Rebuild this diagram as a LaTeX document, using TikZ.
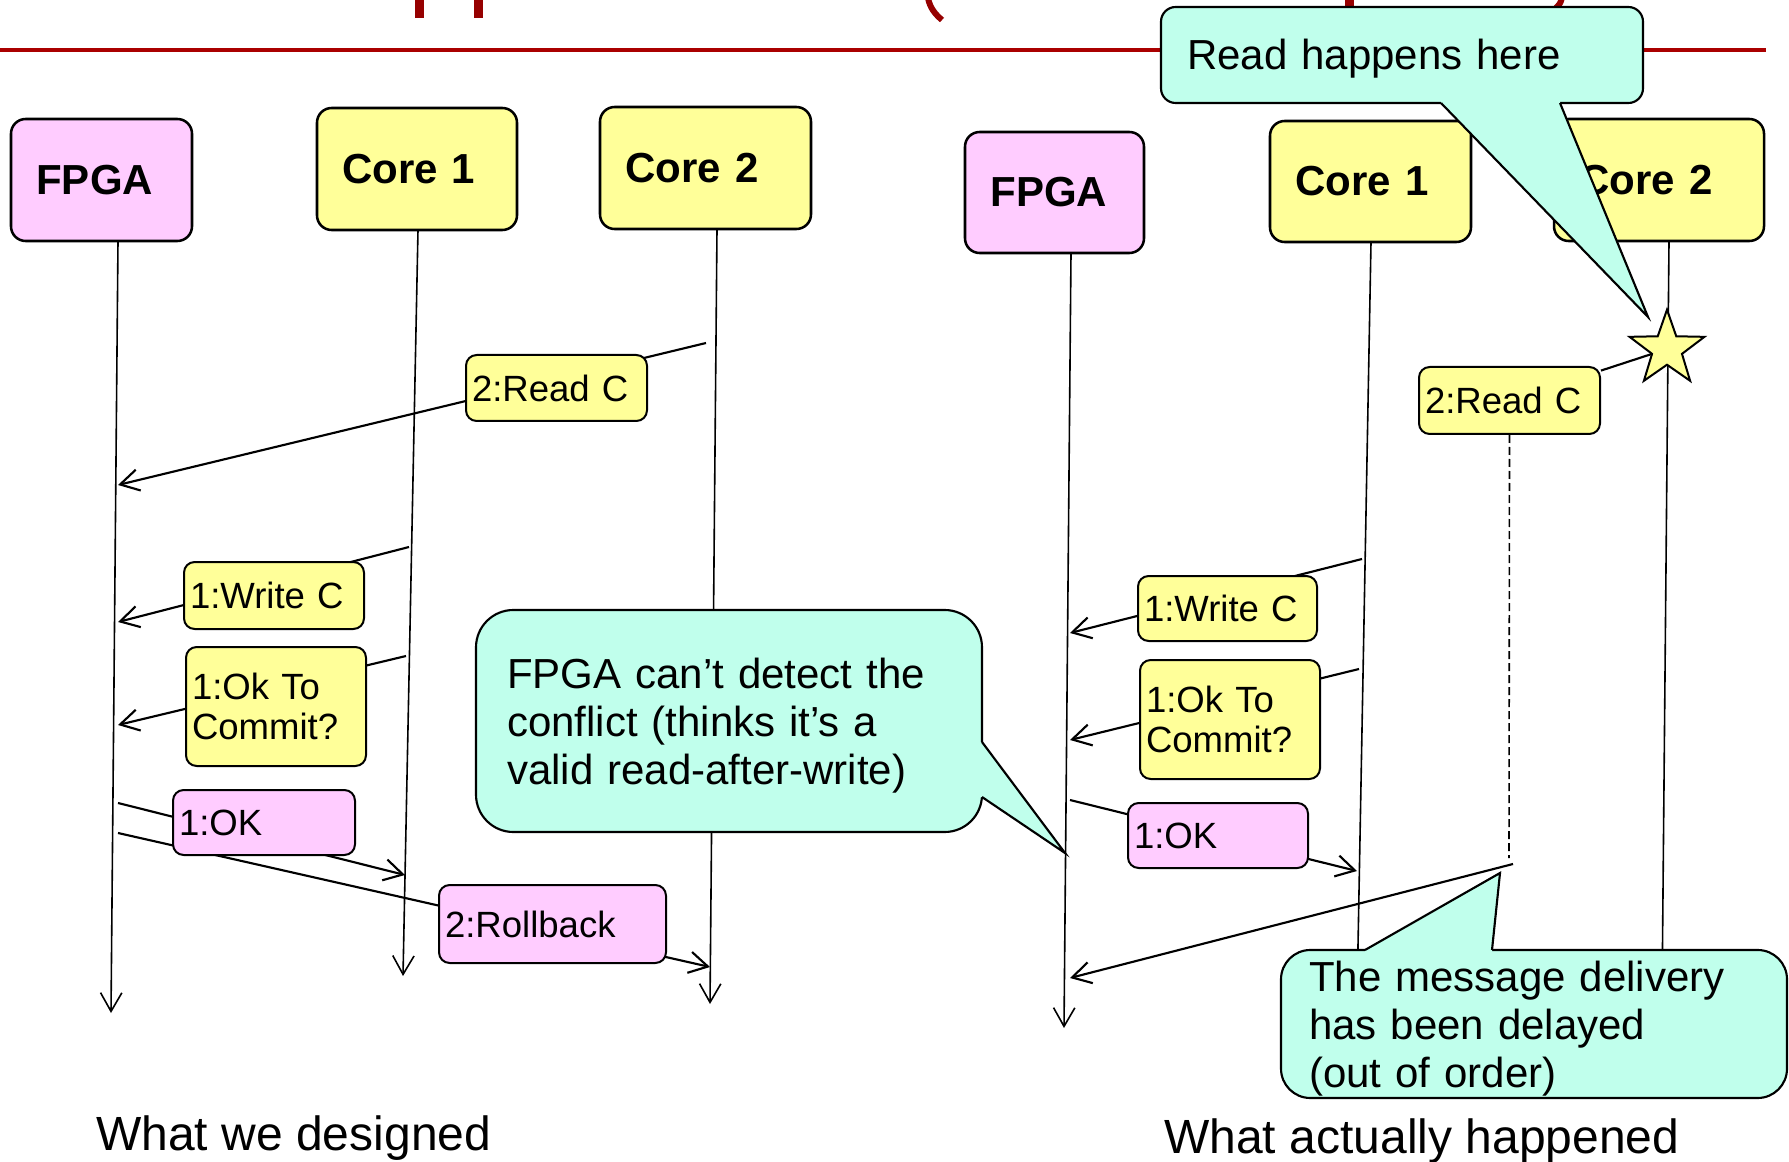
\documentclass[tikz,border=0pt]{standalone}
\usepackage{fontspec}
\setmainfont{Liberation Sans}
\usetikzlibrary{arrows.meta,shapes.geometric}
\definecolor{yfill}{RGB}{255,255,153}
\definecolor{pfill}{RGB}{255,204,255}
\definecolor{cfill}{RGB}{192,255,236}
\definecolor{tred}{RGB}{170,0,0}
\definecolor{tdark}{RGB}{150,0,0}
\begin{document}
\begin{tikzpicture}[x=0.75pt,y=-0.75pt,
  hbox/.style={draw, line width=1.9pt, rounded corners=11pt, align=left, inner xsep=19pt, inner ysep=0pt, font=\bfseries\fontsize{31.5}{36}\selectfont},
  lbl/.style={draw, line width=1.5pt, rounded corners=8pt, align=left, inner xsep=4.5pt, inner ysep=0pt, font=\fontsize{27.4}{30}\selectfont},
  cbox/.style={draw, fill=cfill, line width=1.6pt, align=left, inner ysep=0pt, font=\fontsize{31.5}{36}\selectfont},
  cptr/.style={line width=1.6pt},
  life/.style={line width=1.2pt},
  msg/.style={line width=1.6pt},
  arr/.style={-{Straight Barb[length=14pt,width=16pt]}},
  captxt/.style={anchor=base west, inner sep=0pt, font=\fontsize{36}{40}\selectfont}
]
\useasboundingbox (0,0) rectangle (1789,1162);
\fill[white] (0,0) rectangle (1789,1162);

% title remnants and rule
\draw[tdark, line width=6.75pt] (419,-2) -- (419,18);
\draw[tdark, line width=6.75pt] (478.5,-2) -- (478.5,18);
\draw[tdark, line width=4.5pt] (928,-2) .. controls (930,8) and (935,14) .. (942,20);
\draw[tdark, line width=6.75pt] (1349,-2) -- (1349,10);
\draw[tdark, line width=4.5pt] (1562,-2) .. controls (1560,4) .. (1554,10);
\draw[tred, line width=3pt] (0,50) -- (1766,50);

% lifeline coordinates
\coordinate (fLt) at (118,241);  \coordinate (fLb) at (111,1013);
\coordinate (aLt) at (418,230);  \coordinate (aLb) at (403,976);
\coordinate (bLt) at (717,229);  \coordinate (bLb) at (710,1004);
\coordinate (fRt) at (1071,253); \coordinate (fRb) at (1064,1028);
\coordinate (aRt) at (1371,242); \coordinate (aRb) at (1357,1000);
\coordinate (bRt) at (1669,241); \coordinate (bRb) at (1662,1000);

\draw[life, arr] (fLt) -- (fLb);
\draw[life, arr] (aLt) -- (aLb);
\draw[life, arr] (bLt) -- (bLb);
\draw[life, arr] (fRt) -- (fRb);
\draw[life] (aRt) -- (aRb);
\draw[life] (bRt) -- (bRb);

% message coordinates (left)
\coordinate (m1s) at (706,343); \coordinate (m1e) at (118,485);
\coordinate (m2s) at (409,547); \coordinate (m2e) at (118,622);
\coordinate (m3s) at (406,656); \coordinate (m3e) at (118,725);
\coordinate (m4s) at (118,803); \coordinate (m4e) at (405,875);
\coordinate (m5s) at (118,833); \coordinate (m5e) at (710,967);
% message coordinates (right)
\coordinate (n2s) at (1362,559); \coordinate (n2e) at (1070,633);
\coordinate (n3s) at (1359,669); \coordinate (n3e) at (1070,740);
\coordinate (n4s) at (1070,800); \coordinate (n4e) at (1357,871);
\coordinate (dlyE) at (1509,858);
\coordinate (n1s) at (1513,864); \coordinate (n1e) at (1070,978);

\draw[msg, arr] (m1s) -- (m1e);
\draw[msg, arr] (m2s) -- (m2e);
\draw[msg, arr] (m3s) -- (m3e);
\draw[msg, arr] (m4s) -- (m4e);
\draw[msg, arr] (m5s) -- (m5e);
\draw[msg, arr] (n2s) -- (n2e);
\draw[msg, arr] (n3s) -- (n3e);
\draw[msg, arr] (n4s) -- (n4e);
\draw[msg, arr] (n1s) -- (n1e);

% lifeline heads
\node[hbox, fill=pfill, text width=97.75pt,  minimum height=91.5pt]  (FL)  at (101.5,180)   {FPGA};
\node[hbox, fill=yfill, text width=112pt,    minimum height=91.5pt]  (C1L) at (417,169)     {Core 1};
\node[hbox, fill=yfill, text width=120.25pt, minimum height=91.5pt]  (C2L) at (705.5,168)   {Core 2};
\node[hbox, fill=pfill, text width=96.25pt,  minimum height=90.75pt] (FR)  at (1054.5,192.5){FPGA};
\node[hbox, fill=yfill, text width=112.75pt, minimum height=90.75pt] (C1R) at (1370.5,181.5){Core 1};
\node[hbox, fill=yfill, text width=119.5pt,  minimum height=91.5pt]  (C2R) at (1659,180)    {Core 2};

% message labels
\node[lbl, fill=yfill, text width=126.75pt, minimum height=49.5pt]  (RdL) at (556.5,388)  {2:Read C};
\node[lbl, fill=yfill, text width=126pt,    minimum height=50.25pt] (WrL) at (274,595.5)  {1:Write C};
\node[lbl, fill=yfill, text width=126pt,    minimum height=89.25pt] (OkL) at (276,706.5)  {1:Ok To\\Commit?};
\node[lbl, fill=pfill, text width=127.5pt,  minimum height=48.75pt] (OKL) at (264,822.5)  {1:OK};
\node[lbl, fill=pfill, text width=161.25pt, minimum height=58.5pt]  (RbL) at (552.5,924)  {2:Rollback};
\node[lbl, fill=yfill, text width=126.75pt, minimum height=50.25pt] (RdR) at (1509.5,400.5){2:Read C};
\node[lbl, fill=yfill, text width=125.25pt, minimum height=48.75pt] (WrR) at (1227.5,608.5){1:Write C};
\node[lbl, fill=yfill, text width=126pt,    minimum height=89.25pt] (OkR) at (1230,719.5) {1:Ok To\\Commit?};
\node[lbl, fill=pfill, text width=126pt,    minimum height=48.75pt] (OKR) at (1218,835.5) {1:OK};

% star and delayed read
\node[star, star points=5, star point ratio=2.5, minimum size=59pt, inner sep=0pt, draw, fill=yfill, line width=1.5pt] (st) at (1667,349) {};
\draw[msg] (RdR) -- (st);
\draw[life, dashed, dash pattern=on 6pt off 3pt] (RdR.south) -- (dlyE);

% callouts
\node[cbox, rounded corners=28pt, text width=333pt, inner xsep=23.25pt, minimum height=166.5pt] (cl) at (729,721)
  {\rule{0pt}{30pt}FPGA can’t detect the\\conflict (thinks it’s a\\valid read-after-write)};
\fill[cfill] (977,742) -- (982,742) -- (1065,853) -- (982,797) -- (977,797) -- cycle;
\draw[cptr] (982,742) -- (1065,853) -- (982,797);

\node[cbox, rounded corners=11pt, text width=322.5pt, inner xsep=19.5pt, minimum height=72pt] (cr) at (1402,55)
  {\rule{0pt}{28pt}Read happens here};
\fill[cfill] (1441,99) -- (1441,103) -- (1648,317) -- (1560,103) -- (1560,99) -- cycle;
\draw[cptr] (1441,103) -- (1648,317) -- (1560,103);

\node[cbox, rounded corners=22pt, text width=337.5pt, inner xsep=21pt, minimum height=111pt] (cm) at (1534,1024)
  {\rule{0pt}{30pt}The message delivery\\has been delayed\\(out of order)};
\fill[cfill] (1365,954) -- (1365,950) -- (1500,873) -- (1492,950) -- (1492,954) -- cycle;
\draw[cptr] (1365,950) -- (1500,873) -- (1492,950);

% captions
\node[captxt] (capL) at (96,1150)  {What we designed};
\node[captxt] (capR) at (1164,1153) {What actually happened};
\end{tikzpicture}
\end{document}
